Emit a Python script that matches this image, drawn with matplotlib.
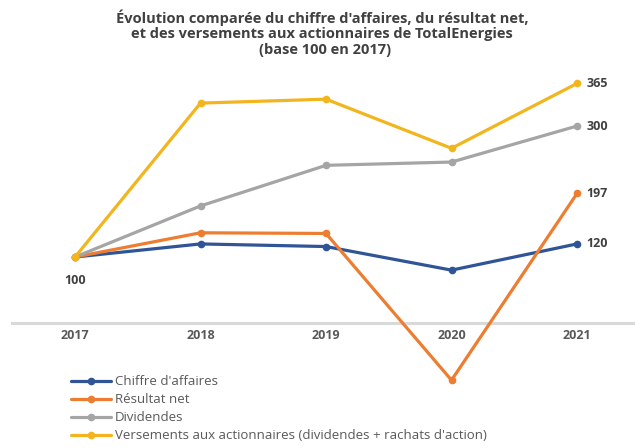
import matplotlib
matplotlib.use("Agg")
import matplotlib.pyplot as plt

plt.rcParams['font.family'] = ['Open Sans', 'DejaVu Sans']

annees = ["2017", "2018", "2019", "2020", "2021"]
chiffre_affaires = [100, 120, 116, 80, 120]
resultat_net = [100, 137, 136, -88, 197]
dividendes = [100, 178, 240, 245, 300]
versements = [100, 335, 341, 266, 365]

series = [
    ("Chiffre d'affaires", chiffre_affaires, "#2F5597"),
    ("Résultat net", resultat_net, "#ED7D31"),
    ("Dividendes", dividendes, "#A5A5A5"),
    ("Versements aux actionnaires (dividendes + rachats d'action)", versements, "#F2B51D"),
]

W, H = 635, 448
fig = plt.figure(figsize=(W / 100, H / 100), dpi=100)
# zone de tracé placée en pixels
ax = fig.add_axes([12 / W, 1 - 390 / H, (W - 12) / W, 330 / H])
x = list(range(len(annees)))

for nom, vals, couleur in series:
    ax.plot(x, vals, color=couleur, lw=2.3, marker="o", ms=4.5, label=nom,
            solid_capstyle="round")

ax.set_xlim(-0.502, 4.462)
ax.set_ylim(-103, 400.8)

# axe horizontal qui croise à 0
for s in ax.spines.values():
    s.set_visible(False)
ax.spines["bottom"].set_visible(True)
ax.spines["bottom"].set_position(("data", 0))
ax.spines["bottom"].set_color("#D9D9D9")
ax.spines["bottom"].set_linewidth(2.2)
ax.spines["bottom"].set_zorder(0)

ax.set_xticks(x)
ax.set_xticklabels(annees, fontsize=9, fontweight="bold", color="#595959")
ax.tick_params(axis="x", length=0, pad=5)
ax.set_yticks([])
ax.patch.set_alpha(0)

# étiquettes de données
for _, vals, _ in series:
    ax.annotate(str(vals[-1]), (x[-1], vals[-1]), xytext=(7, 0), textcoords="offset points",
                ha="left", va="center", fontsize=9, fontweight="bold", color="#404040")
ax.annotate("100", (x[0], chiffre_affaires[0]), xytext=(0, -17), textcoords="offset points",
            ha="center", va="center", fontsize=9, fontweight="bold", color="#404040")

fig.text(322 / W, 1 - 18 / H, "Évolution comparée du chiffre d'affaires, du résultat net,",
         ha="center", va="center", fontsize=10.5, fontweight="bold", color="#404040")
fig.text(322 / W, 1 - 34 / H, "et des versements aux actionnaires de TotalEnergies",
         ha="center", va="center", fontsize=10.5, fontweight="bold", color="#404040")
fig.text(325 / W, 1 - 50 / H, "(base 100 en 2017)",
         ha="center", va="center", fontsize=10.5, fontweight="bold", color="#404040")

fig.legend(loc="upper left", bbox_to_anchor=(66 / W, 1 - 370 / H), frameon=False,
           fontsize=9.5, handlelength=3.0, handletextpad=0.3, labelspacing=0.38,
           labelcolor="#595959", borderaxespad=0)

fig.savefig("out.png", dpi=100)
